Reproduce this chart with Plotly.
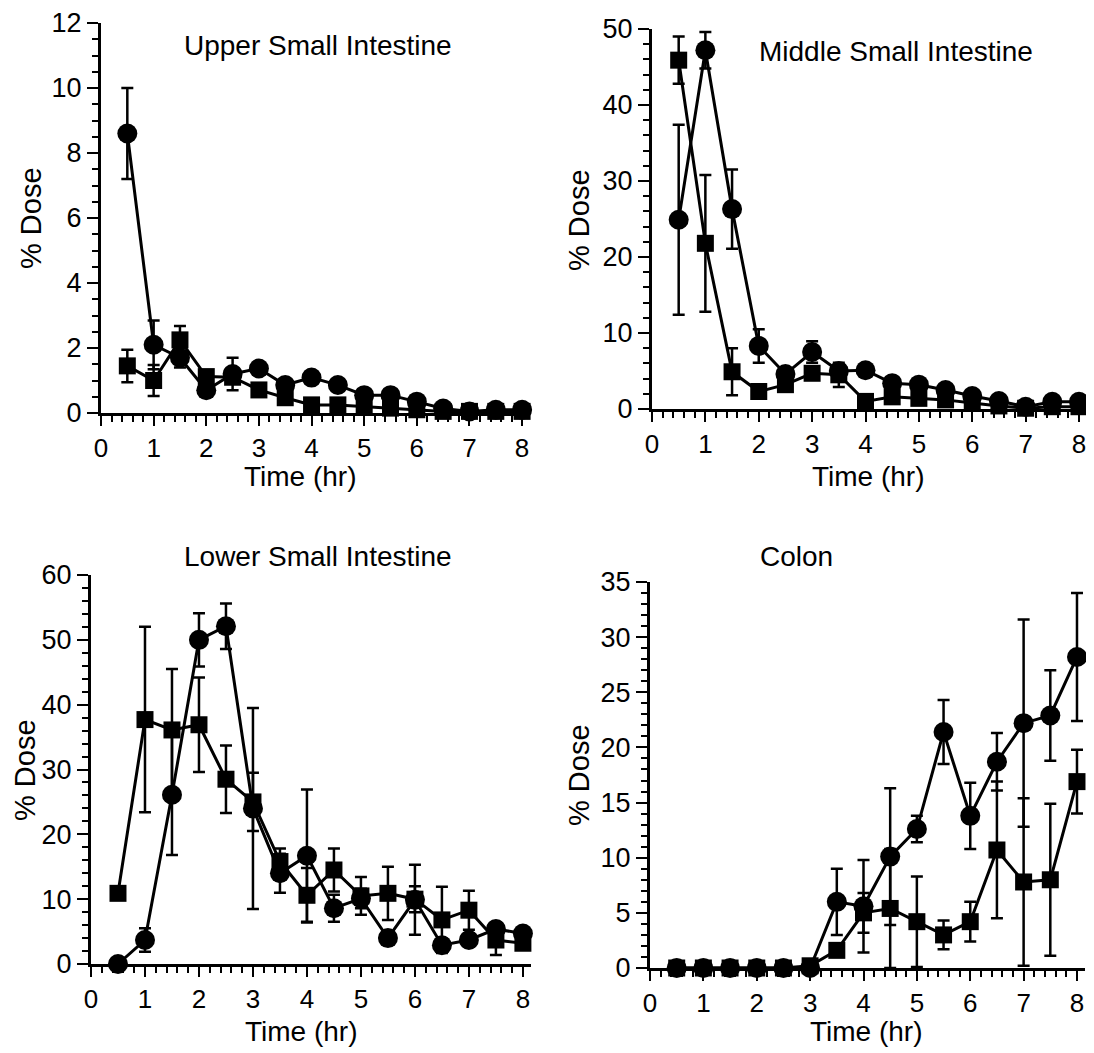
import plotly.graph_objects as go

# ---------------- data ----------------
time_hr = [0.5, 1, 1.5, 2, 2.5, 3, 3.5, 4, 4.5, 5, 5.5, 6, 6.5, 7, 7.5, 8]

panel_titles = ["Upper Small Intestine", "Middle Small Intestine", "Lower Small Intestine", "Colon"]
x_title = "Time (hr)"
y_title = "% Dose"

# Upper small intestine
upper_circle = [8.6, 2.1, 1.7, 0.7, 1.2, 1.37, 0.86, 1.09, 0.86, 0.55, 0.55, 0.35, 0.14, 0.05, 0.1, 0.1]
upper_circle_err = [1.4, 0.75, 0.3, 0.1, 0.5, 0.1, 0.1, 0.15, 0.1, 0.05, 0.05, 0.05, 0.05, 0.02, 0.02, 0.02]
upper_square = [1.45, 1.0, 2.25, 1.12, 1.1, 0.71, 0.47, 0.25, 0.25, 0.2, 0.15, 0.1, 0.05, 0.05, 0.05, 0.05]
upper_square_err = [0.5, 0.48, 0.43, 0.1, 0.2, 0.1, 0.1, 0.05, 0.05, 0.05, 0.05, 0.02, 0.02, 0.02, 0.02, 0.02]

# Middle small intestine
middle_circle = [24.9, 47.2, 26.3, 8.3, 4.6, 7.5, 5.0, 5.1, 3.4, 3.2, 2.5, 1.7, 1.05, 0.3, 0.96, 0.96]
middle_circle_err = [12.5, 2.4, 5.2, 2.2, 0.8, 1.4, 0.5, 0.5, 0.4, 0.4, 0.3, 0.3, 0.2, 0.1, 0.2, 0.2]
middle_square = [45.9, 21.8, 4.9, 2.3, 3.2, 4.7, 4.5, 1.0, 1.6, 1.4, 1.2, 0.8, 0.4, 0.1, 0.3, 0.3]
middle_square_err = [3.1, 9.0, 3.1, 0.5, 0.8, 0.8, 1.6, 0.3, 0.3, 0.3, 0.2, 0.2, 0.1, 0.1, 0.1, 0.1]

# Lower small intestine
lower_circle = [0.0, 3.7, 26.1, 50.0, 52.1, 24.0, 14.0, 16.7, 8.6, 10.1, 4.0, 9.9, 2.9, 3.7, 5.4, 4.7]
lower_circle_err = [0.5, 1.8, 9.3, 4.1, 3.5, 15.5, 3.0, 10.2, 2.1, 1.5, 0.5, 5.4, 1.0, 1.0, 1.0, 0.8]
lower_square = [10.9, 37.7, 36.1, 36.9, 28.5, 25.0, 15.8, 10.6, 14.5, 10.5, 10.9, 10.0, 6.8, 8.3, 3.7, 3.2]
lower_square_err = [0.8, 14.3, 9.4, 7.3, 5.2, 4.5, 2.0, 4.2, 3.3, 2.9, 4.1, 2.0, 5.1, 3.0, 2.3, 1.0]

# Colon
colon_circle = [0, 0, 0, 0, 0, 0, 6.0, 5.6, 10.1, 12.6, 21.4, 13.8, 18.7, 22.2, 22.9, 28.2]
colon_circle_err = [0, 0, 0, 0, 0, 0, 3.0, 4.2, 6.2, 1.2, 2.9, 3.0, 2.6, 9.4, 4.1, 5.8]
colon_square = [0, 0, 0, 0, 0, 0.2, 1.6, 5.0, 5.4, 4.2, 3.0, 4.2, 10.7, 7.8, 8.0, 16.9]
colon_square_err = [0, 0, 0, 0, 0, 0.1, 0.3, 1.8, 5.4, 4.1, 1.3, 1.8, 6.2, 7.6, 6.9, 2.9]

y_ranges = [[0, 12], [0, 50], [0, 60], [0, 35]]
y_major = [2, 10, 10, 5]
y_minor = [0.5, 2, 2, 1]

# ---------------- figure ----------------
OFF = 8  # page body margin of the html page
W, H = 1094 - OFF, 1053 - OFF
FONT = "Liberation Sans, Arial, Helvetica, sans-serif"


def px(x):
    return (x - OFF) / W


def py(y):
    return 1 - (y - OFF) / H


# pixel boxes for each panel: (x_left, x_right, y_top, y_bottom)
boxes = [
    (101, 530, 23, 413),
    (652, 1087, 29, 409),
    (91, 531, 575, 964),
    (650, 1085, 582, 968),
]

series = [
    (upper_circle, upper_circle_err, upper_square, upper_square_err),
    (middle_circle, middle_circle_err, middle_square, middle_square_err),
    (lower_circle, lower_circle_err, lower_square, lower_square_err),
    (colon_circle, colon_circle_err, colon_square, colon_square_err),
]

fig = go.Figure()

for i, (box, s) in enumerate(zip(boxes, series)):
    xl, xr, yt, yb = box
    n = i + 1
    xa = "x" if n == 1 else f"x{n}"
    ya = "y" if n == 1 else f"y{n}"
    circ, circ_e, sq, sq_e = s
    for vals, errs, sym, size in [(sq, sq_e, "square", 17), (circ, circ_e, "circle", 20)]:
        fig.add_trace(go.Scatter(
            x=time_hr, y=vals, xaxis=xa, yaxis=ya,
            mode="lines+markers",
            line=dict(color="black", width=3),
            marker=dict(symbol=sym, size=size, color="black"),
            error_y=dict(type="data", array=errs, visible=True, color="black",
                         thickness=2.5, width=6),
            cliponaxis=False, showlegend=False,
        ))
    xkey = "xaxis" if n == 1 else f"xaxis{n}"
    ykey = "yaxis" if n == 1 else f"yaxis{n}"
    fig.update_layout(**{
        xkey: dict(
            domain=[px(xl), min(px(xr), 1.0)], anchor=ya, range=[0, 8.15],
            automargin=False,
            tickmode="linear", tick0=0, dtick=1,
            ticks="outside", ticklen=10, tickwidth=2, tickcolor="black",
            minor=dict(dtick=0.2, tick0=0, ticks="outside", ticklen=6, tickwidth=1.5, tickcolor="black"),
            showline=True, linewidth=3, linecolor="black",
            showgrid=False, zeroline=False,
            tickfont=dict(family=FONT, size=26, color="black"),
        ),
        ykey: dict(
            domain=[py(yb), py(yt)], anchor=xa, range=y_ranges[i],
            automargin=False,
            tickmode="linear", tick0=0, dtick=y_major[i],
            ticks="outside", ticklen=11, tickwidth=2, tickcolor="black",
            minor=dict(dtick=y_minor[i], tick0=0, ticks="outside", ticklen=6, tickwidth=1.5, tickcolor="black"),
            showline=True, linewidth=3, linecolor="black",
            showgrid=False, zeroline=False,
            tickfont=dict(family=FONT, size=27, color="black"),
        ),
    })

# annotations: titles and axis labels (target pixel positions)
title_pos = [(318, 45), (896, 51), (318, 556), (796, 556)]
xlabel_pos = [(300, 477), (868, 477), (301, 1031), (866, 1031)]
ylabel_pos = [(31, 218), (579, 220), (25, 770), (579, 775)]

ann = []
for i in range(4):
    tx, ty = title_pos[i]
    ann.append(dict(text=panel_titles[i], x=px(tx), y=py(ty), xref="paper", yref="paper",
                    showarrow=False, xanchor="center", yanchor="middle",
                    font=dict(family=FONT, size=28, color="black")))
    lx, ly = xlabel_pos[i]
    ann.append(dict(text=x_title, x=px(lx), y=py(ly), xref="paper", yref="paper",
                    showarrow=False, xanchor="center", yanchor="middle",
                    font=dict(family=FONT, size=28, color="black")))
    vx, vy = ylabel_pos[i]
    ann.append(dict(text=y_title, x=px(vx), y=py(vy), xref="paper", yref="paper",
                    showarrow=False, xanchor="center", yanchor="middle", textangle=-90,
                    font=dict(family=FONT, size=29, color="black")))

fig.update_layout(
    width=W, height=H,
    margin=dict(l=0, r=0, t=0, b=0, autoexpand=False),
    paper_bgcolor="white", plot_bgcolor="white",
    annotations=ann,
    showlegend=False,
)

fig.write_html("out.html")
